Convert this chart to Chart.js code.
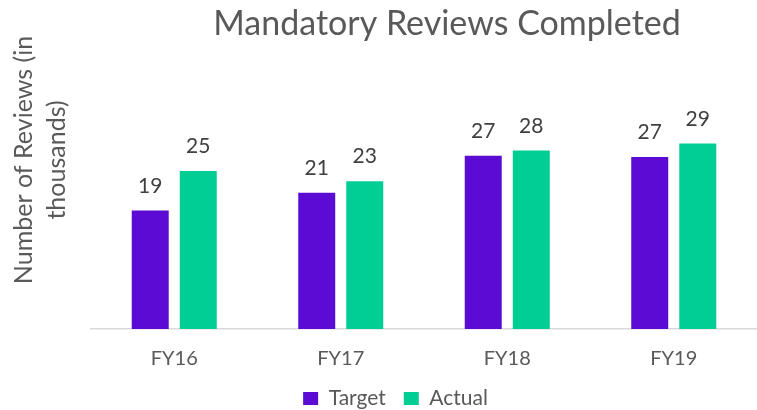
<!DOCTYPE html>
<html>
<head>
<meta charset="utf-8">
<script src="https://cdn.jsdelivr.net/npm/chart.js@4"></script>
<style>
  html, body { margin: 0; padding: 0; background: #fff; }
  #wrap { width: 757px; height: 410px; }
</style>
</head>
<body>
<div id="wrap"><canvas id="reviewsChart"></canvas></div>
<script>
// chart data
const years = ["FY16", "FY17", "FY18", "FY19"];
const target = [18.6, 21.4, 27.2, 27.0];
const actual = [24.8, 23.2, 28.0, 29.1];
const chartTitle = "Mandatory Reviews Completed";
const yTitle = ["Number of Reviews (in", "thousands)"];

const FONT = "Lato, 'Open Sans', sans-serif";
const GREY = "#595959";

// numbers above the bars
const barLabels = {
  id: "barLabels",
  afterDatasetsDraw(chart) {
    const ctx = chart.ctx;
    ctx.save();
    ctx.font = "21px " + FONT;
    ctx.fillStyle = "#404040";
    ctx.textAlign = "center";
    ctx.textBaseline = "bottom";
    chart.data.datasets.forEach((ds, i) => {
      chart.getDatasetMeta(i).data.forEach((bar, j) => {
        ctx.fillText(Math.round(ds.data[j]), bar.x, bar.y - 14);
      });
    });
    ctx.restore();
  }
};

// title + rotated two line y axis title (drawn by hand so they sit where excel put them)
const titles = {
  id: "titles",
  afterDraw(chart) {
    const ctx = chart.ctx;
    ctx.save();
    ctx.fillStyle = GREY;
    ctx.textAlign = "center";
    ctx.textBaseline = "alphabetic";
    ctx.font = "34px " + FONT;
    ctx.fillText(chartTitle, 447, 35);

    ctx.font = "25px " + FONT;
    ctx.textBaseline = "middle";
    ctx.translate(0, 160);
    ctx.rotate(-Math.PI / 2);
    ctx.fillText(yTitle[0], 0, 24);
    ctx.fillText(yTitle[1], 0, 57);
    ctx.restore();
  }
};

new Chart(document.getElementById("reviewsChart"), {
  type: "bar",
  data: {
    labels: years,
    datasets: [
      {
        label: "Target",
        data: target,
        backgroundColor: "#5B0BD3",
        barPercentage: 0.77,
        categoryPercentage: 0.577,
      },
      {
        label: "Actual",
        data: actual,
        backgroundColor: "#00CE94",
        barPercentage: 0.77,
        categoryPercentage: 0.577,
      },
    ],
  },
  options: {
    responsive: true,
    maintainAspectRatio: false,
    animation: false,
    layout: { padding: { left: 34, right: 0, top: 55, bottom: -9 } },
    plugins: {
      title: { display: false },
      legend: {
        position: "bottom",
        labels: {
          color: GREY,
          font: { family: FONT, size: 21 },
          boxWidth: 15,
          boxHeight: 13,
          padding: 18,
        },
      },
      tooltip: { enabled: false },
    },
    scales: {
      x: {
        grid: { display: false },
        border: { display: true, color: "#D9D9D9", width: 1.5 },
        ticks: { color: GREY, font: { family: FONT, size: 20 }, padding: 10 },
        afterFit(scale) { scale.height = 41; },
      },
      y: {
        min: 0,
        max: 43,
        grid: { display: false },
        border: { display: false },
        ticks: { display: false },
        // hidden axis, only keeps room for the hand drawn title
        afterFit(scale) { scale.width = 57; },
      },
    },
  },
  plugins: [barLabels, titles],
});
</script>
</body>
</html>
